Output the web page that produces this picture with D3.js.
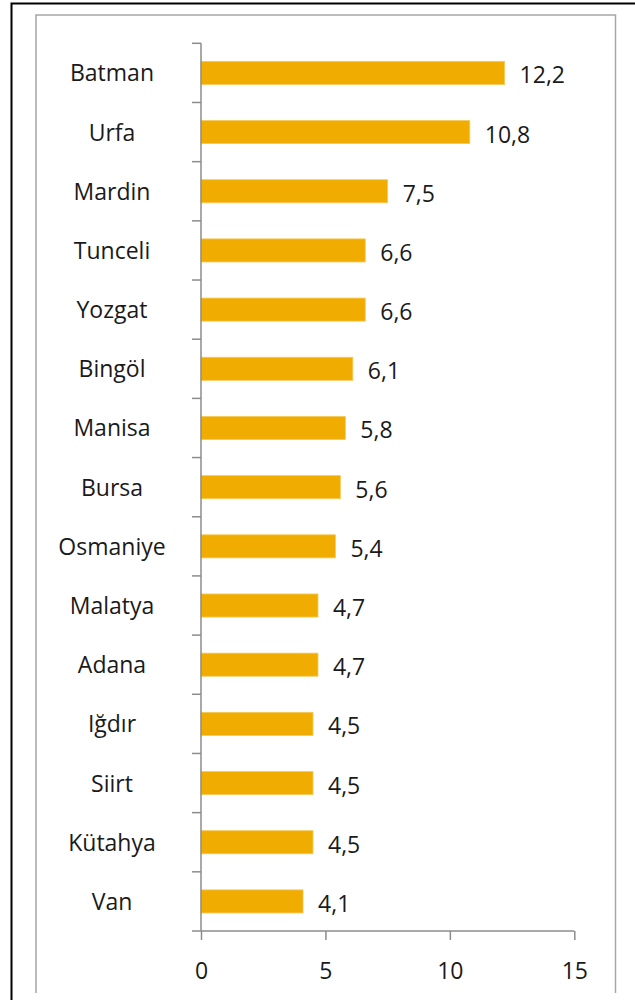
<!DOCTYPE html>
<html>
<head>
<meta charset="utf-8">
<script src="https://cdn.jsdelivr.net/npm/d3@7"></script>
<style>
  body { margin: 0; background: #fff; }
  svg { display: block; font-family: "Open Sans", sans-serif; }
</style>
</head>
<body>
<div id="chart"></div>
<script>
const width = 635, height = 1000;

const categories = ["Batman", "Urfa", "Mardin", "Tunceli", "Yozgat", "Bingöl", "Manisa", "Bursa",
    "Osmaniye", "Malatya", "Adana", "Iğdır", "Siirt", "Kütahya", "Van"];
const values = [12.2, 10.8, 7.5, 6.6, 6.6, 6.1, 5.8, 5.6, 5.4, 4.7, 4.7, 4.5, 4.5, 4.5, 4.1];
const xTicks = [0, 5, 10, 15];

const data = categories.map((c, i) => ({ name: c, value: values[i] }));

const plot = { left: 201, right: 574.3, top: 43.3, bottom: 931 };

const svg = d3.select("#chart").append("svg")
    .attr("width", width)
    .attr("height", height);

// outer frame (black) and inner chart area (gray)
svg.append("rect")
    .attr("x", 11.5).attr("y", 3.5)
    .attr("width", 640).attr("height", 1010)
    .attr("fill", "none").attr("stroke", "#000").attr("stroke-width", 2);

svg.append("path")
    .attr("d", "M36,993 L36,15 L615.5,15 L615.5,993")
    .attr("fill", "none").attr("stroke", "#a6a6a6").attr("stroke-width", 1.5);

const xScale = d3.scaleLinear()
    .domain([0, 15])
    .range([plot.left, plot.right]);

const yScale = d3.scaleBand()
    .domain(categories)
    .range([plot.top, plot.bottom])
    .paddingInner(0.61)
    .paddingOuter(0.305);

const step = yScale.step();
const bw = yScale.bandwidth();

// bars
svg.selectAll(".bar")
    .data(data)
    .join("rect")
        .attr("class", "bar")
        .attr("x", xScale(0))
        .attr("y", d => yScale(d.name))
        .attr("width", d => xScale(d.value) - xScale(0))
        .attr("height", bw)
        .attr("fill", "#f0ad00")
        .attr("stroke", "#f5c85a")
        .attr("stroke-width", 0.8);

// value labels (comma decimal)
const fmt = v => d3.format(".1f")(v).replace(".", ",");
svg.selectAll(".val")
    .data(data)
    .join("text")
        .attr("class", "val")
        .attr("x", d => xScale(d.value) + 15)
        .attr("y", d => yScale(d.name) + bw / 2 + 10.5)
        .attr("font-size", 23)
        .attr("fill", "#1a1a1a")
        .text(d => fmt(d.value));

// category labels
svg.selectAll(".cat")
    .data(data)
    .join("text")
        .attr("class", "cat")
        .attr("x", 112)
        .attr("y", d => yScale(d.name) + bw / 2 + 8.5)
        .attr("text-anchor", "middle")
        .attr("font-size", 23)
        .attr("fill", "#1a1a1a")
        .text(d => d.name);

// y axis: line with tick marks between categories
const axisColor = "#8c8c8c";
const boundaries = d3.range(categories.length + 1).map(i => plot.top + i * step);

svg.append("line")
    .attr("x1", plot.left).attr("x2", plot.left)
    .attr("y1", plot.top).attr("y2", plot.bottom)
    .attr("stroke", axisColor).attr("stroke-width", 1.5);

svg.selectAll(".ytick")
    .data(boundaries)
    .join("line")
        .attr("class", "ytick")
        .attr("x1", plot.left - 9).attr("x2", plot.left)
        .attr("y1", d => d).attr("y2", d => d)
        .attr("stroke", axisColor).attr("stroke-width", 1.5);

// x axis
const xAxis = svg.append("g")
    .attr("transform", `translate(0, ${plot.bottom})`)
    .call(d3.axisBottom(xScale)
        .tickValues(xTicks)
        .tickSize(9)
        .tickPadding(23)
        .tickFormat(d3.format("d")));

xAxis.select(".domain").attr("stroke", axisColor).attr("stroke-width", 1.5)
    .attr("d", `M${plot.left},0H${plot.right}`);
xAxis.selectAll(".tick line").attr("stroke", axisColor).attr("stroke-width", 1.5);
xAxis.selectAll(".tick text")
    .attr("font-family", "Open Sans, sans-serif")
    .attr("font-size", 23)
    .attr("fill", "#1a1a1a");
</script>
</body>
</html>
